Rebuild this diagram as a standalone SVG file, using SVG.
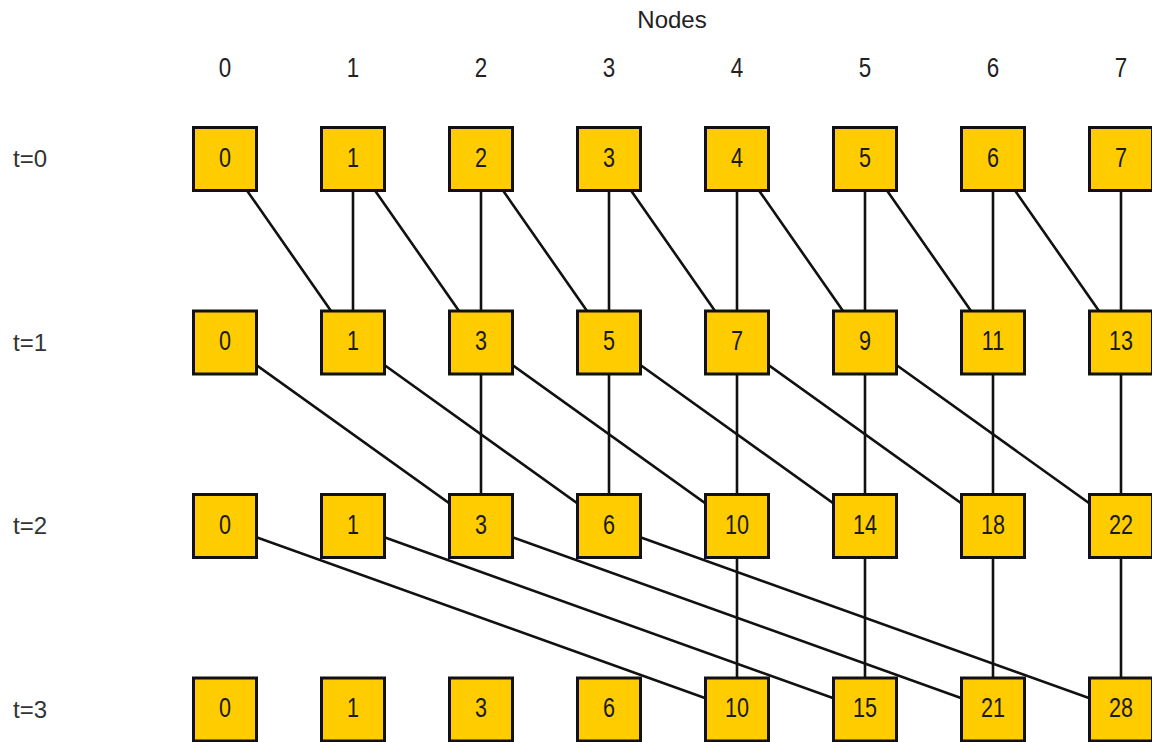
<svg xmlns="http://www.w3.org/2000/svg" width="1152" height="742" viewBox="0 0 1152 742">
  <style>
    .box rect { fill: #FFCC00; stroke: #111; stroke-width: 3; }
    .box text, .hdr { font-family: "Liberation Sans", Arial, sans-serif; fill: #1a1a1a; text-anchor: middle;
      transform-box: fill-box; transform-origin: center; transform: scaleX(0.8); }
    .box text { font-size: 27px; }
    .hdr { font-size: 28px; fill: #222; }
    .title { font-family: "Liberation Sans", Arial, sans-serif; font-size: 24px; fill: #222; text-anchor: middle; }
    .row { font-family: "Liberation Sans", Arial, sans-serif; font-size: 24px; fill: #333; }
    #connectors path { stroke: #111; stroke-width: 2.6; fill: none; }
  </style>
  <rect width="1152" height="742" fill="#fff"/>

  <!-- column headers -->
  <g id="headers">
    <text class="title" x="672" y="28">Nodes</text>
    <text class="hdr" x="225" y="77">0</text>
    <text class="hdr" x="353" y="77">1</text>
    <text class="hdr" x="481" y="77">2</text>
    <text class="hdr" x="609" y="77">3</text>
    <text class="hdr" x="737" y="77">4</text>
    <text class="hdr" x="865" y="77">5</text>
    <text class="hdr" x="993" y="77">6</text>
    <text class="hdr" x="1121" y="77">7</text>
  </g>

  <!-- step labels -->
  <g id="steps">
    <text class="row" x="13" y="167">t=0</text>
    <text class="row" x="13" y="350.5">t=1</text>
    <text class="row" x="13" y="534">t=2</text>
    <text class="row" x="13" y="717.5">t=3</text>
  </g>

  <!-- connectors run centre to centre; boxes are painted over them -->
  <g id="connectors">
    <!-- t=0 to t=1: same column and one to the right -->
    <path d="M353 159V342.5M481 159V342.5M609 159V342.5M737 159V342.5M865 159V342.5M993 159V342.5M1121 159V342.5"/>
    <path d="M225 159L353 342.5M353 159L481 342.5M481 159L609 342.5M609 159L737 342.5M737 159L865 342.5M865 159L993 342.5M993 159L1121 342.5"/>
    <!-- t=1 to t=2: same column and two to the right -->
    <path d="M481 342.5V526M609 342.5V526M737 342.5V526M865 342.5V526M993 342.5V526M1121 342.5V526"/>
    <path d="M225 342.5L481 526M353 342.5L609 526M481 342.5L737 526M609 342.5L865 526M737 342.5L993 526M865 342.5L1121 526"/>
    <!-- t=2 to t=3: same column and four to the right -->
    <path d="M737 526V709.5M865 526V709.5M993 526V709.5M1121 526V709.5"/>
    <path d="M225 526L737 709.5M353 526L865 709.5M481 526L993 709.5M609 526L1121 709.5"/>
  </g>

  <!-- t=0 -->
  <g id="n0-0" class="box"><rect x="193.5" y="127.5" width="63" height="63"/><text x="225" y="167">0</text></g>
  <g id="n0-1" class="box"><rect x="321.5" y="127.5" width="63" height="63"/><text x="353" y="167">1</text></g>
  <g id="n0-2" class="box"><rect x="449.5" y="127.5" width="63" height="63"/><text x="481" y="167">2</text></g>
  <g id="n0-3" class="box"><rect x="577.5" y="127.5" width="63" height="63"/><text x="609" y="167">3</text></g>
  <g id="n0-4" class="box"><rect x="705.5" y="127.5" width="63" height="63"/><text x="737" y="167">4</text></g>
  <g id="n0-5" class="box"><rect x="833.5" y="127.5" width="63" height="63"/><text x="865" y="167">5</text></g>
  <g id="n0-6" class="box"><rect x="961.5" y="127.5" width="63" height="63"/><text x="993" y="167">6</text></g>
  <g id="n0-7" class="box"><rect x="1089.5" y="127.5" width="63" height="63"/><text x="1121" y="167">7</text></g>

  <!-- t=1 -->
  <g id="n1-0" class="box"><rect x="193.5" y="311" width="63" height="63"/><text x="225" y="350.5">0</text></g>
  <g id="n1-1" class="box"><rect x="321.5" y="311" width="63" height="63"/><text x="353" y="350.5">1</text></g>
  <g id="n1-2" class="box"><rect x="449.5" y="311" width="63" height="63"/><text x="481" y="350.5">3</text></g>
  <g id="n1-3" class="box"><rect x="577.5" y="311" width="63" height="63"/><text x="609" y="350.5">5</text></g>
  <g id="n1-4" class="box"><rect x="705.5" y="311" width="63" height="63"/><text x="737" y="350.5">7</text></g>
  <g id="n1-5" class="box"><rect x="833.5" y="311" width="63" height="63"/><text x="865" y="350.5">9</text></g>
  <g id="n1-6" class="box"><rect x="961.5" y="311" width="63" height="63"/><text x="993" y="350.5">11</text></g>
  <g id="n1-7" class="box"><rect x="1089.5" y="311" width="63" height="63"/><text x="1121" y="350.5">13</text></g>

  <!-- t=2 -->
  <g id="n2-0" class="box"><rect x="193.5" y="494.5" width="63" height="63"/><text x="225" y="534">0</text></g>
  <g id="n2-1" class="box"><rect x="321.5" y="494.5" width="63" height="63"/><text x="353" y="534">1</text></g>
  <g id="n2-2" class="box"><rect x="449.5" y="494.5" width="63" height="63"/><text x="481" y="534">3</text></g>
  <g id="n2-3" class="box"><rect x="577.5" y="494.5" width="63" height="63"/><text x="609" y="534">6</text></g>
  <g id="n2-4" class="box"><rect x="705.5" y="494.5" width="63" height="63"/><text x="737" y="534">10</text></g>
  <g id="n2-5" class="box"><rect x="833.5" y="494.5" width="63" height="63"/><text x="865" y="534">14</text></g>
  <g id="n2-6" class="box"><rect x="961.5" y="494.5" width="63" height="63"/><text x="993" y="534">18</text></g>
  <g id="n2-7" class="box"><rect x="1089.5" y="494.5" width="63" height="63"/><text x="1121" y="534">22</text></g>

  <!-- t=3 -->
  <g id="n3-0" class="box"><rect x="193.5" y="678" width="63" height="63"/><text x="225" y="717.5">0</text></g>
  <g id="n3-1" class="box"><rect x="321.5" y="678" width="63" height="63"/><text x="353" y="717.5">1</text></g>
  <g id="n3-2" class="box"><rect x="449.5" y="678" width="63" height="63"/><text x="481" y="717.5">3</text></g>
  <g id="n3-3" class="box"><rect x="577.5" y="678" width="63" height="63"/><text x="609" y="717.5">6</text></g>
  <g id="n3-4" class="box"><rect x="705.5" y="678" width="63" height="63"/><text x="737" y="717.5">10</text></g>
  <g id="n3-5" class="box"><rect x="833.5" y="678" width="63" height="63"/><text x="865" y="717.5">15</text></g>
  <g id="n3-6" class="box"><rect x="961.5" y="678" width="63" height="63"/><text x="993" y="717.5">21</text></g>
  <g id="n3-7" class="box"><rect x="1089.5" y="678" width="63" height="63"/><text x="1121" y="717.5">28</text></g>
</svg>
